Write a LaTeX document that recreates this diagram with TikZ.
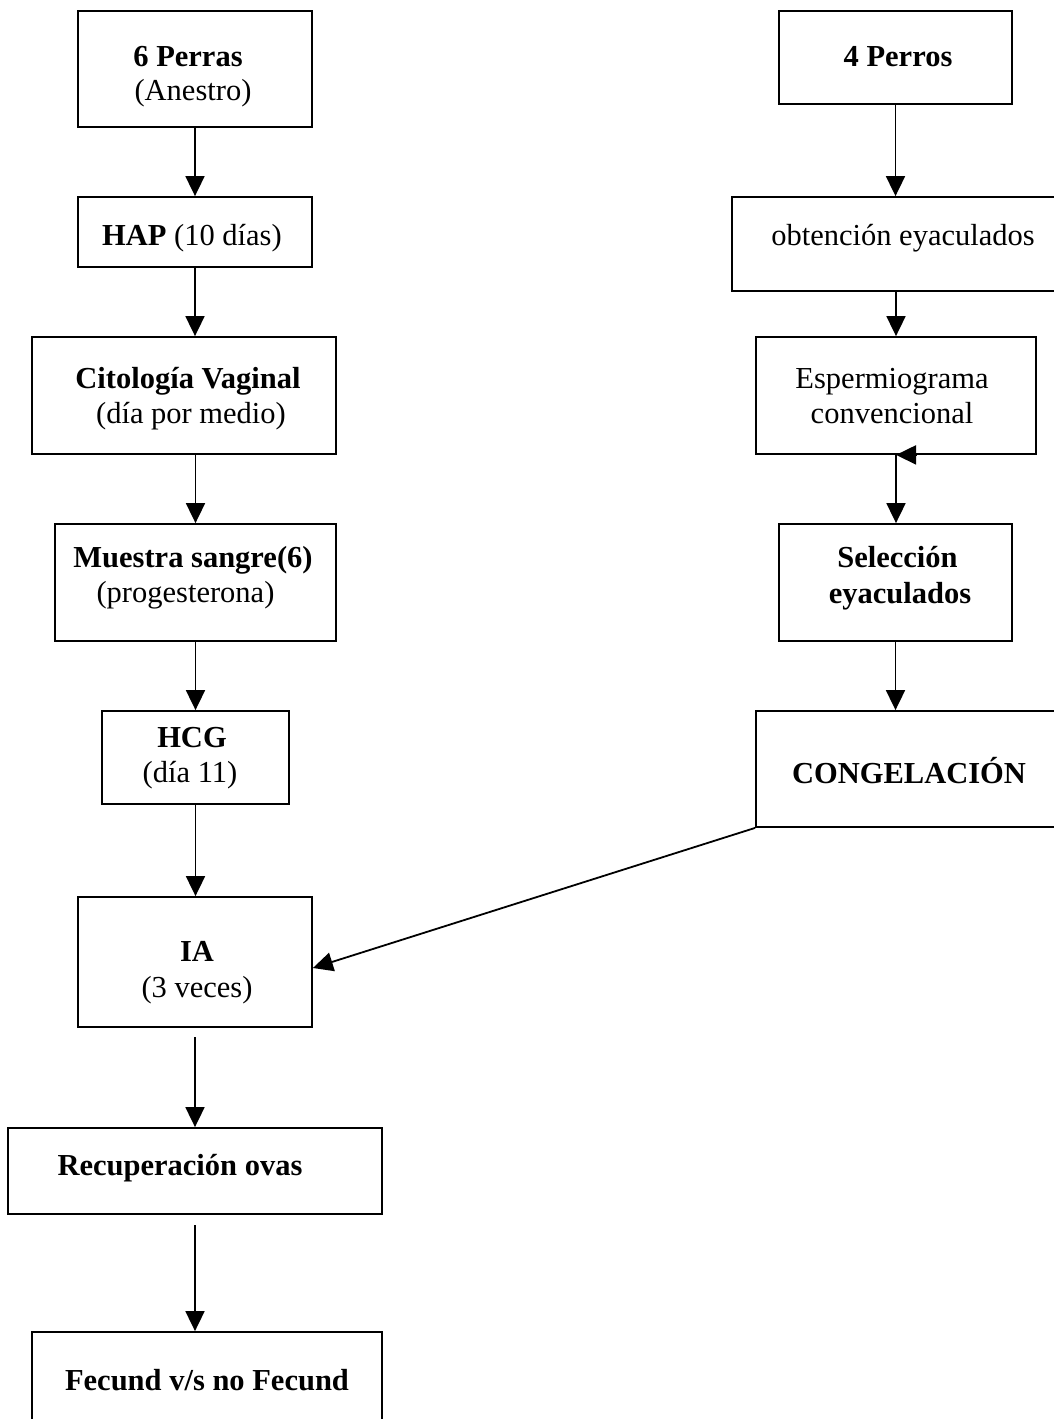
\documentclass[tikz,border=0pt]{standalone}
\usepackage{fontspec}
\setmainfont{Liberation Serif}
\usetikzlibrary{arrows.meta}
\begin{document}
\begin{tikzpicture}[x=1pt,y=-1pt,
  box/.style={draw=black,line width=1.8pt,rectangle,inner sep=0pt},
  txt/.style={font=\fontsize{30.5}{36}\selectfont,inner sep=0pt,anchor=base},
  arr/.style={line width=1.8pt,-{Triangle[length=20pt,width=19pt]}}]
\useasboundingbox (0,0) rectangle (1054,1419);
\clip (0,0) rectangle (1054,1419);
% left column boxes
\node[box,minimum width=234pt,minimum height=116pt] (perras) at (195,69) {};
\node[box,minimum width=234pt,minimum height=70pt] (hap) at (195,232) {};
\node[box,minimum width=304pt,minimum height=117pt] (cito) at (184,395.5) {};
\node[box,minimum width=281pt,minimum height=117pt] (muestra) at (195.5,582.5) {};
\node[box,minimum width=187pt,minimum height=93pt] (hcg) at (195.5,757.5) {};
\node[box,minimum width=234pt,minimum height=130pt] (ia) at (195,962) {};
\node[box,minimum width=374pt,minimum height=86pt] (recup) at (195,1171) {};
\node[box,minimum width=350pt,minimum height=108pt] (fecund) at (207,1386) {};
% right column boxes
\node[box,minimum width=233pt,minimum height=93pt] (perros) at (895.5,57.5) {};
\node[box,minimum width=338pt,minimum height=94pt] (obt) at (901,244) {};
\node[box,minimum width=280pt,minimum height=117pt] (esp) at (896,395.5) {};
\node[box,minimum width=233pt,minimum height=117pt] (sel) at (895.5,582.5) {};
\node[box,minimum width=314pt,minimum height=116pt] (cong) at (913,769) {};
% texts
\node[txt] (perras1) at (188,66) {\textbf{6 Perras}};
\node[txt] (perras2) at (193,100) {(Anestro)};
\node[txt] (hap1) at (192,245) {\textbf{HAP} (10 días)};
\node[txt] (cito1) at (188,388) {\textbf{Citología Vaginal}};
\node[txt] (cito2) at (191,423) {(día por medio)};
\node[txt] (muestra1) at (193,567) {\textbf{Muestra sangre(6)}};
\node[txt] (muestra2) at (185.5,602) {(progesterona)};
\node[txt] (hcg1) at (192,747) {\textbf{HCG}};
\node[txt] (hcg2) at (190,782) {(día 11)};
\node[txt] (ia1) at (197,961) {\textbf{IA}};
\node[txt] (ia2) at (197,997) {(3 veces)};
\node[txt] (recup1) at (180,1175) {\textbf{Recuperación ovas}};
\node[txt] (fecund1) at (207,1390) {\textbf{Fecund v/s no Fecund}};
\node[txt] (perros1) at (898,66) {\textbf{4 Perros}};
\node[txt] (obt1) at (903,245) {obtención eyaculados};
\node[txt] (esp1) at (892,388) {Espermiograma};
\node[txt] (esp2) at (892,423) {convencional};
\node[txt] (sel1) at (897.5,567) {\textbf{Selección}};
\node[txt] (sel2) at (900,603) {\textbf{eyaculados}};
\node[txt] (cong1) at (909,783) {\textbf{CONGELACIÓN}};
% free ends of gapped connectors
\coordinate (iagap) at (195,1037);
\coordinate (recupgap) at (195,1225);
% left connectors
\draw[arr] (perras.south) -- (hap.north);
\draw[arr] (hap.south) -- (hap.south |- cito.north);
\draw[arr] (muestra.north |- cito.south) -- (muestra.north);
\draw[arr] (muestra.south) -- (muestra.south |- hcg.north);
\draw[arr] (hcg.south) -- (hcg.south |- ia.north);
\draw[arr] (iagap) -- (iagap |- recup.north);
\draw[arr] (recupgap) -- (recupgap |- fecund.north);
% right connectors
\draw[arr] (perros.south) -- (perros.south |- obt.north);
\draw[arr] (esp.north |- obt.south) -- (esp.north);
\draw[arr] ([xshift=20pt]esp.south) -- (esp.south);
\draw[arr] (esp.south) -- (esp.south |- sel.north);
\draw[arr] (sel.south) -- (sel.south |- cong.north);
% cross connector
\draw[arr] (cong.south west) -- ([yshift=-6pt]ia.east);
\end{tikzpicture}
\end{document}
